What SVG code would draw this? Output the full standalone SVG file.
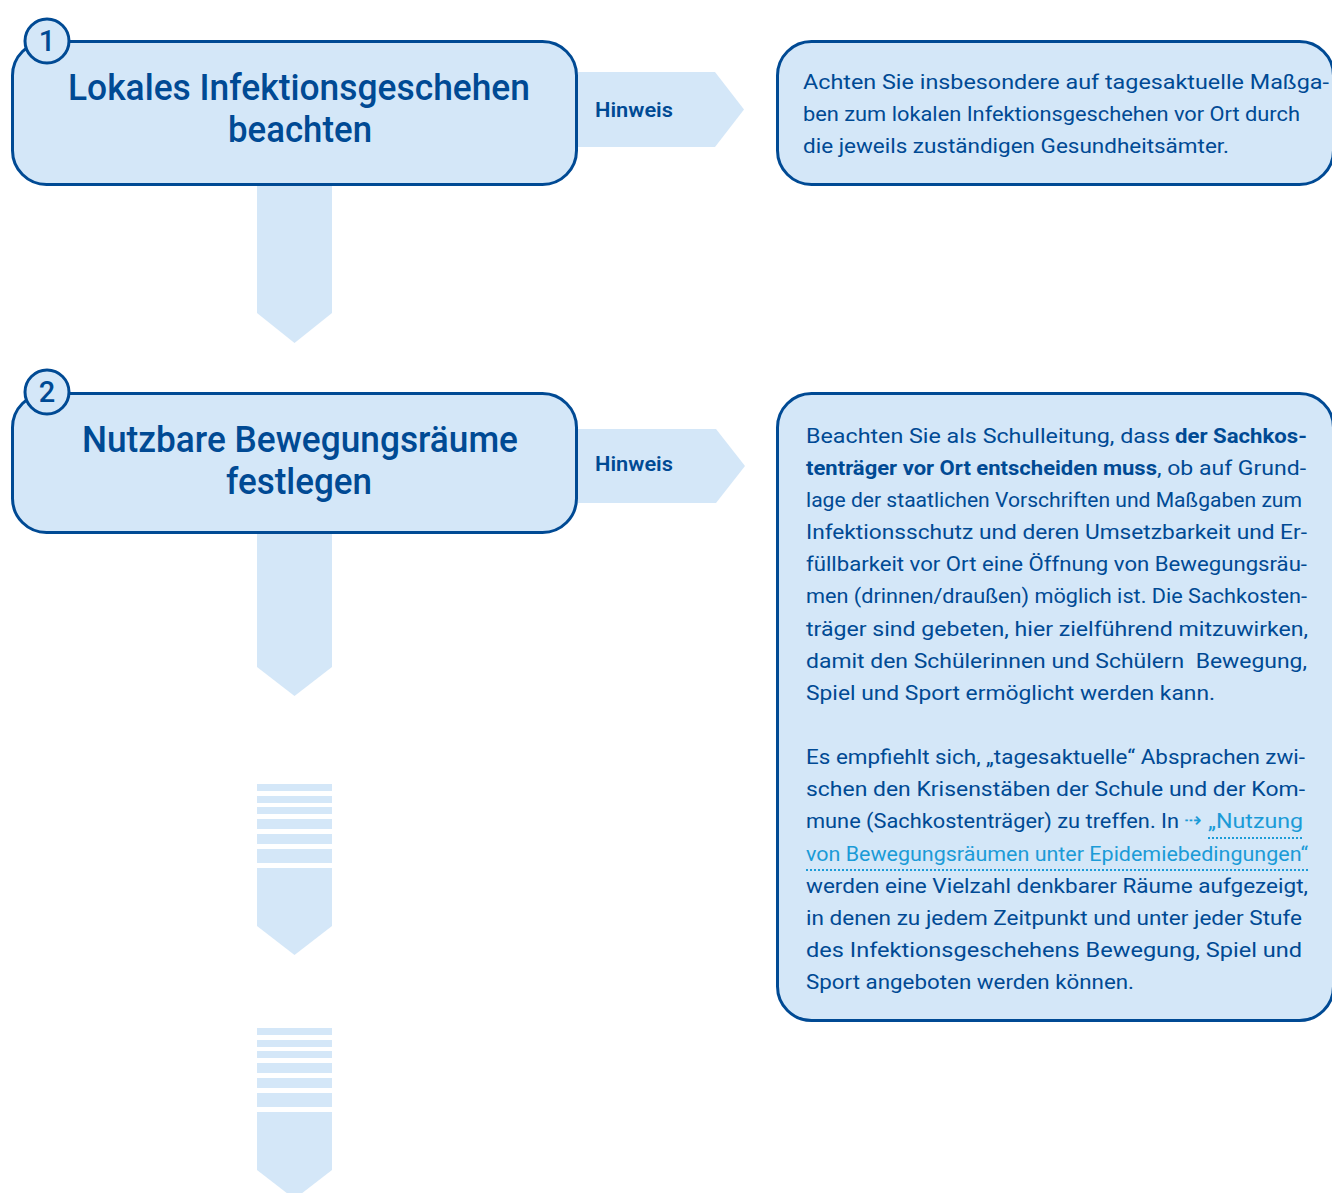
<svg xmlns="http://www.w3.org/2000/svg" width="1332" height="1193" viewBox="0 0 1332 1193">
<style>
.box{fill:#d4e7f8;stroke:#004a94;stroke-width:3}
.arr{fill:#d4e7f8;stroke:none}
.title{font-family:Roboto,"Noto Sans",sans-serif;font-weight:500;font-size:36px;fill:#004a94;text-anchor:middle}
.num{font-family:Roboto,"Noto Sans",sans-serif;font-weight:500;font-size:29px;fill:#004a94;text-anchor:middle}
.hint{font-family:Roboto,"Noto Sans",sans-serif;font-weight:600;font-size:20px;fill:#004a94}
.body{font-family:Roboto,"Noto Sans",sans-serif;font-weight:400;font-size:20.5px;fill:#004a94}
.bold{font-weight:700}
.link{fill:#1b9bd7}
.dots{stroke:#1b9bd7;stroke-width:2;stroke-dasharray:2 2;fill:none}
</style>
<rect width="1332" height="1193" fill="#ffffff"/>
<g id="connectors">
  <polygon class="arr" points="257,185 332,185 332,313 294.5,343 257,313"/>
  <polygon class="arr" points="257,533 332,533 332,667 294.5,696 257,667"/>
  <g id="arrow3">
    <rect class="arr" x="257" y="784" width="75" height="7"/>
    <rect class="arr" x="257" y="796" width="75" height="7"/>
    <rect class="arr" x="257" y="807" width="75" height="7"/>
    <rect class="arr" x="257" y="819" width="75" height="10"/>
    <rect class="arr" x="257" y="834" width="75" height="10"/>
    <rect class="arr" x="257" y="849" width="75" height="14"/>
    <polygon class="arr" points="257,868 332,868 332,926 294.5,955 257,926"/>
  </g>
  <g id="arrow4">
    <rect class="arr" x="257" y="1028" width="75" height="7"/>
    <rect class="arr" x="257" y="1040" width="75" height="7"/>
    <rect class="arr" x="257" y="1051" width="75" height="7"/>
    <rect class="arr" x="257" y="1063" width="75" height="10"/>
    <rect class="arr" x="257" y="1078" width="75" height="10"/>
    <rect class="arr" x="257" y="1093" width="75" height="14"/>
    <polygon class="arr" points="257,1112 332,1112 332,1170 294.5,1199 257,1170"/>
  </g>
  <g id="hint1">
    <polygon class="arr" points="578,72 715,72 744,109.5 715,147 578,147"/>
    <text class="hint" x="595" y="117" textLength="78" lengthAdjust="spacingAndGlyphs">Hinweis</text>
  </g>
  <g id="hint2">
    <polygon class="arr" points="578,429 716,429 745,466 716,503 578,503"/>
    <text class="hint" x="595" y="471" textLength="78" lengthAdjust="spacingAndGlyphs">Hinweis</text>
  </g>
</g>
<g id="node1">
  <rect class="box" x="12.5" y="41.5" width="564" height="143" rx="34"/>
  <circle class="box" cx="47" cy="41" r="22"/>
  <text class="num" x="47" y="51">1</text>
  <text class="title" x="299" y="100" textLength="462" lengthAdjust="spacingAndGlyphs">Lokales Infektionsgeschehen</text>
  <text class="title" x="300" y="142" textLength="144" lengthAdjust="spacingAndGlyphs">beachten</text>
</g>
<g id="note1">
  <rect class="box" x="777.5" y="41.5" width="556" height="143" rx="34"/>
  <text class="body" x="803" y="89" textLength="526" lengthAdjust="spacingAndGlyphs">Achten Sie insbesondere auf tagesaktuelle Maßga-</text>
  <text class="body" x="803" y="121" textLength="497" lengthAdjust="spacingAndGlyphs">ben zum lokalen Infektionsgeschehen vor Ort durch</text>
  <text class="body" x="803" y="153" textLength="426" lengthAdjust="spacingAndGlyphs">die jeweils zuständigen Gesundheitsämter.</text>
</g>
<g id="node2">
  <rect class="box" x="12.5" y="393.5" width="564" height="139" rx="34"/>
  <circle class="box" cx="47" cy="392" r="22"/>
  <text class="num" x="47" y="402">2</text>
  <text class="title" x="300" y="452" textLength="436" lengthAdjust="spacingAndGlyphs">Nutzbare Bewegungsräume</text>
  <text class="title" x="299" y="494" textLength="146" lengthAdjust="spacingAndGlyphs">festlegen</text>
</g>
<g id="note2">
  <rect class="box" x="777.5" y="393.5" width="556" height="627" rx="34"/>
  <text class="body" x="806" y="443" textLength="364" lengthAdjust="spacingAndGlyphs">Beachten Sie als Schulleitung, dass</text>
  <text class="body bold" x="1175" y="443" textLength="132" lengthAdjust="spacingAndGlyphs">der Sachkos-</text>
  <text class="body bold" x="806" y="475" textLength="351" lengthAdjust="spacingAndGlyphs">tenträger vor Ort entscheiden muss</text>
  <text class="body" x="1157" y="475" textLength="149" lengthAdjust="spacingAndGlyphs">, ob auf Grund-</text>
  <text class="body" x="806" y="507" textLength="496" lengthAdjust="spacingAndGlyphs">lage der staatlichen Vorschriften und Maßgaben zum</text>
  <text class="body" x="806" y="539" textLength="501" lengthAdjust="spacingAndGlyphs">Infektionsschutz und deren Umsetzbarkeit und Er-</text>
  <text class="body" x="806" y="571" textLength="501" lengthAdjust="spacingAndGlyphs">füllbarkeit vor Ort eine Öffnung von Bewegungsräu-</text>
  <text class="body" x="806" y="603" textLength="501" lengthAdjust="spacingAndGlyphs">men (drinnen/draußen) möglich ist. Die Sachkosten-</text>
  <text class="body" x="806" y="636" textLength="502" lengthAdjust="spacingAndGlyphs">träger sind gebeten, hier zielführend mitzuwirken,</text>
  <text class="body" x="806" y="668" textLength="501" lengthAdjust="spacingAndGlyphs" style="white-space:pre">damit den Schülerinnen und Schülern  Bewegung,</text>
  <text class="body" x="806" y="700" textLength="409" lengthAdjust="spacingAndGlyphs">Spiel und Sport ermöglicht werden kann.</text>
  <text class="body" x="806" y="764" textLength="499" lengthAdjust="spacingAndGlyphs">Es empfiehlt sich, „tagesaktuelle“ Absprachen zwi-</text>
  <text class="body" x="806" y="796" textLength="499" lengthAdjust="spacingAndGlyphs">schen den Krisenstäben der Schule und der Kom-</text>
  <text class="body" x="806" y="828" textLength="373" lengthAdjust="spacingAndGlyphs">mune (Sachkostenträger) zu treffen. In</text>
  <text class="body link" x="1184" y="827" font-size="15">⇢</text>
  <text class="body link" x="1208" y="828" textLength="95" lengthAdjust="spacingAndGlyphs">„Nutzung</text>
  <path class="dots" d="M1208,838 H1303"/>
  <text class="body link" x="806" y="861" textLength="502" lengthAdjust="spacingAndGlyphs">von Bewegungsräumen unter Epidemiebedingungen“</text>
  <path class="dots" d="M806,870 H1308"/>
  <text class="body" x="806" y="893" textLength="502" lengthAdjust="spacingAndGlyphs">werden eine Vielzahl denkbarer Räume aufgezeigt,</text>
  <text class="body" x="806" y="925" textLength="496" lengthAdjust="spacingAndGlyphs">in denen zu jedem Zeitpunkt und unter jeder Stufe</text>
  <text class="body" x="806" y="957" textLength="496" lengthAdjust="spacingAndGlyphs">des Infektionsgeschehens Bewegung, Spiel und</text>
  <text class="body" x="806" y="989" textLength="328" lengthAdjust="spacingAndGlyphs">Sport angeboten werden können.</text>
</g>
</svg>
